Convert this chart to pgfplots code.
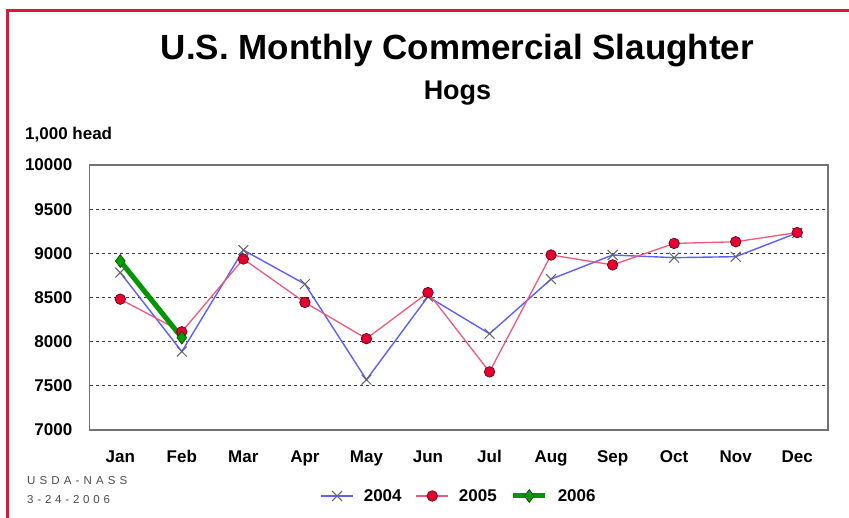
\documentclass[border=0pt]{standalone}
\usepackage{fontspec}
\setmainfont{Liberation Sans}
\usepackage{pgfplots}
\pgfplotsset{compat=1.18}
\definecolor{frameRed}{RGB}{225,20,60}
\definecolor{lineA}{RGB}{95,95,250}
\definecolor{markA}{RGB}{100,100,100}
\definecolor{lineB}{RGB}{240,90,120}
\definecolor{fillB}{RGB}{230,0,50}
\definecolor{drawB}{RGB}{90,0,10}
\definecolor{lineC}{RGB}{0,150,0}
\definecolor{fillC}{RGB}{0,160,0}
\definecolor{drawC}{RGB}{0,70,0}
\definecolor{gridc}{RGB}{60,60,60}
\definecolor{borderc}{RGB}{115,115,115}
\begin{document}
\begin{tikzpicture}[x=1pt,y=1pt]
\useasboundingbox (0,0) rectangle (849,518);
\fill[white] (0,0) rectangle (849,518);
\draw[frameRed, line width=3pt] (7.7,0) -- (7.7,507) -- (849,507);
\node[font=\bfseries\fontsize{35}{35}\selectfont, anchor=base, inner sep=0pt] at (457.5,458.7) {U.S. Monthly Commercial Slaughter};
\node[font=\bfseries\fontsize{27}{27}\selectfont, anchor=base, inner sep=0pt] at (457.5,418) {Hogs};
\node[font=\bfseries\fontsize{17}{17}\selectfont, anchor=base west, inner sep=0pt] at (25,378) {1,000 head};
\node[font=\fontsize{11.5}{11.5}\selectfont\addfontfeature{LetterSpace=36}, text=black!70, anchor=base west, inner sep=0pt] at (27,33) {USDA-NASS};
\node[font=\fontsize{11.5}{11.5}\selectfont\addfontfeature{LetterSpace=33}, text=black!70, anchor=base west, inner sep=0pt] at (27,14) {3-24-2006};
\begin{axis}[
  at={(89.5pt,88pt)}, anchor=south west,
  width=738.5pt, height=265pt, scale only axis,
  xmin=-0.5, xmax=11.5, ymin=7000, ymax=10000,
  xtick={0,...,11},
  xticklabels={Jan,Feb,Mar,Apr,May,Jun,Jul,Aug,Sep,Oct,Nov,Dec},
  ytick={7000,7500,...,10000},
  scaled y ticks=false,
  /pgf/number format/assume math mode=true,
  /pgf/number format/1000 sep={},
  /pgf/number format/fixed,
  major tick length=0pt,
  tick label style={font=\bfseries\fontsize{17}{17}\selectfont},
  yticklabel style={anchor=east, inner sep=0pt, xshift=-17pt},
  xticklabel style={anchor=base, inner sep=0pt, yshift=-33pt},
  axis line style={draw=borderc, line width=1.5pt},
  ymajorgrids,
  major grid style={draw=gridc, line width=1.1pt, dash pattern=on 3pt off 3pt},
  legend columns=3,
  legend style={at={(0.499,-0.249)}, anchor=center, draw=none, fill=none,
    font=\bfseries\fontsize{17}{17}\selectfont,
    nodes={inner sep=0pt},
    /tikz/every odd column/.append style={column sep=10pt},
    /tikz/every even column/.append style={column sep=14pt}},
  legend image code/.code={\draw[mark repeat=2,mark phase=2,#1] plot coordinates {(0pt,0pt) (16pt,0pt) (32pt,0pt)};},
]
\addplot[color=lineA, line width=1.4pt, mark=x, mark size=7pt, mark options={draw=markA, line width=1pt}]
  coordinates {(0,8782) (1,7888) (2,9037) (3,8652) (4,7569) (5,8510) (6,8090) (7,8708) (8,8981) (9,8951) (10,8962) (11,9231)};
\addlegendentry{2004}
\addplot[color=lineB, line width=1.3pt, mark=*, mark size=5.3pt, mark options={fill=fillB, draw=drawB, line width=0.6pt}]
  coordinates {(0,8481) (1,8112) (2,8936) (3,8444) (4,8034) (5,8556) (6,7658) (7,8981) (8,8869) (9,9112) (10,9131) (11,9235)};
\addlegendentry{2005}
\addplot[color=lineC, line width=5pt, mark=diamond*, mark size=6.5pt, mark options={fill=fillC, draw=drawC, line width=0.6pt}]
  coordinates {(0,8913) (1,8045)};
\addlegendentry{2006}
\end{axis}
\end{tikzpicture}
\end{document}
